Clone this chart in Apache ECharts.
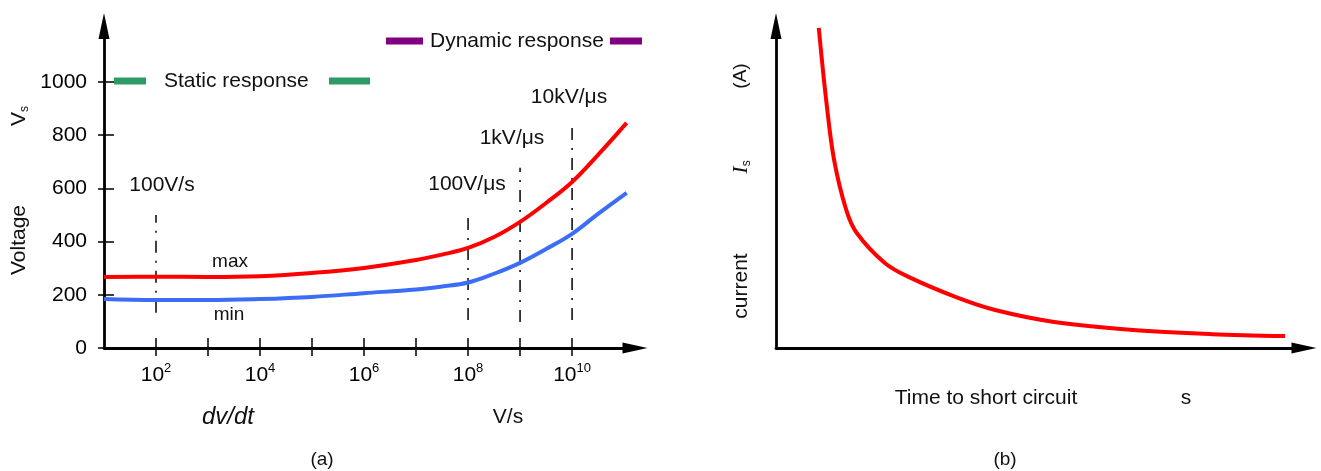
<!DOCTYPE html>
<html>
<head>
<meta charset="utf-8">
<script src="https://cdn.jsdelivr.net/npm/echarts@6/dist/echarts.min.js"></script>
<style>
html,body{margin:0;padding:0;background:#fff;}
#c{width:1321px;height:471px;}
</style>
</head>
<body>
<div id="c"></div>
<script>
// ---- data: panel (a) ----
var dvdtExp   = [1, 2, 3, 4, 5, 6, 7, 7.5, 8, 8.5, 9, 9.5, 10, 10.5, 11.05]; // log10(dv/dt)
var vMax      = [267, 268, 267, 270, 282, 301, 331, 351, 376, 417, 474, 545, 624, 726, 846];
var vMin      = [184, 180, 180, 184, 192, 206, 220, 231, 246, 279, 320, 372, 429, 504, 583];
var guideExp    = [2, 8, 9, 10];
var guideTop    = [500, 500, 677, 850];
var guideBottom = [132, 105, 98, 105];
var guideNames  = ['100V/s', '100V/μs', '1kV/μs', '10kV/μs'];
var yTicks    = [0, 200, 400, 600, 800, 1000];
var xTickExps = [2, 3, 4, 5, 6, 7, 8, 9, 10];
var xLabelExps = [2, 4, 6, 8, 10];
// ---- data: panel (b) ----
var tShort = [0.81, 0.95, 1.10, 1.33, 1.53, 2.06, 2.52, 3.41, 4.15, 5.27, 6.76, 8.26, 9.64];
var iShort = [9.94, 7.70, 5.84, 4.29, 3.57, 2.64, 2.20, 1.58, 1.18, 0.81, 0.56, 0.43, 0.37];

var FONT = "'Liberation Sans', Arial, sans-serif";
var chart = echarts.init(document.getElementById('c'), null, {renderer: 'canvas'});

function zip(a, b) { return a.map(function (v, i) { return [v, b[i]]; }); }

var series = [
  {type: 'line', xAxisIndex: 0, yAxisIndex: 0, data: zip(dvdtExp, vMax), smooth: 0.4, symbol: 'none',
   lineStyle: {color: '#ff0000', width: 4}, z: 5},
  {type: 'line', xAxisIndex: 0, yAxisIndex: 0, data: zip(dvdtExp, vMin), smooth: 0.4, symbol: 'none',
   lineStyle: {color: '#3b6ef5', width: 4}, z: 5},
  {type: 'line', xAxisIndex: 2, yAxisIndex: 2, data: zip(tShort, iShort), smooth: 0.35, symbol: 'none',
   lineStyle: {color: '#ff0000', width: 4}, z: 5}
];
guideExp.forEach(function (e, i) {
  series.push({type: 'line', xAxisIndex: 0, yAxisIndex: 0, symbol: 'none', silent: true,
    data: [[e, guideBottom[i]], [e, guideTop[i]]],
    lineStyle: {color: '#000', width: 1.5, type: [12, 8, 2, 8]}, z: 3});
});

var axisLineBase = {show: true, lineStyle: {color: '#000', width: 2.8}, symbol: ['none', 'triangle']};

chart.setOption({
  animation: false,
  grid: [
    {left: 104, top: 26, width: 531, height: 322},
    {left: 776, top: 26, width: 528, height: 322}
  ],
  xAxis: [
    {type: 'value', gridIndex: 0, min: 1, max: 11.21, interval: 1, position: 'bottom',
     axisLine: Object.assign({}, axisLineBase, {symbolSize: [11, 25]}),
     splitLine: {show: false},
     axisTick: {show: true, length: 8, lineStyle: {color: '#000', width: 1.5}, customValues: xTickExps},
     axisLabel: {show: true, margin: 14, customValues: xLabelExps, color: '#000',
       formatter: function (v) { return '{b|10}{p|' + v + '}'; },
       rich: {b: {fontSize: 21, fontFamily: FONT, lineHeight: 26, color: '#000'},
              p: {fontSize: 13, fontFamily: FONT, lineHeight: 14, verticalAlign: 'top', color: '#000'}}}},
    {type: 'value', gridIndex: 0, min: 1, max: 11.21, interval: 1, position: 'bottom',
     axisLine: {show: false}, splitLine: {show: false}, axisLabel: {show: false},
     axisTick: {show: true, inside: true, length: 10, lineStyle: {color: '#000', width: 1.5}, customValues: xTickExps}},
    {type: 'value', gridIndex: 1, min: 0, max: 10, position: 'bottom',
     axisLine: Object.assign({}, axisLineBase, {symbolSize: [11, 25]}),
     splitLine: {show: false}, axisTick: {show: false}, axisLabel: {show: false}}
  ],
  yAxis: [
    {type: 'value', gridIndex: 0, min: 0, max: 1210, interval: 200, position: 'left',
     axisLine: Object.assign({}, axisLineBase, {symbolSize: [11, 26]}),
     splitLine: {show: false},
     axisTick: {show: true, length: 6, lineStyle: {color: '#000', width: 1.5}, customValues: yTicks},
     axisLabel: {show: true, margin: 17, customValues: yTicks, color: '#000', fontSize: 21, fontFamily: FONT,
       formatter: function (v) { return String(v); }}},
    {type: 'value', gridIndex: 0, min: 0, max: 1210, interval: 200, position: 'left',
     axisLine: {show: false}, splitLine: {show: false}, axisLabel: {show: false},
     axisTick: {show: true, inside: true, length: 10, lineStyle: {color: '#000', width: 1.5}, customValues: yTicks}},
    {type: 'value', gridIndex: 1, min: 0, max: 10, position: 'left',
     axisLine: Object.assign({}, axisLineBase, {symbolSize: [11, 26]}),
     splitLine: {show: false}, axisTick: {show: false}, axisLabel: {show: false}}
  ],
  series: series,
  graphic: [
    // legend-like annotations
    {type: 'rect', shape: {x: 114, y: 77.5, width: 32, height: 7}, style: {fill: '#2e9a66'}},
    {type: 'rect', shape: {x: 329, y: 77.5, width: 41, height: 7}, style: {fill: '#2e9a66'}},
    {type: 'text', x: 164, y: 81, style: {text: 'Static response', fontSize: 21, fontFamily: FONT, fill: '#111', align: 'left', verticalAlign: 'middle'}},
    {type: 'rect', shape: {x: 386, y: 37.5, width: 37, height: 7}, style: {fill: '#800080'}},
    {type: 'rect', shape: {x: 610, y: 37.5, width: 32, height: 7}, style: {fill: '#800080'}},
    {type: 'text', x: 430, y: 41, style: {text: 'Dynamic response', fontSize: 21, fontFamily: FONT, fill: '#111', align: 'left', verticalAlign: 'middle'}},
    // guide annotations
    {type: 'text', x: 162, y: 185, style: {text: guideNames[0], fontSize: 21, fontFamily: FONT, fill: '#111', align: 'center', verticalAlign: 'middle'}},
    {type: 'text', x: 467, y: 184, style: {text: guideNames[1], fontSize: 21, fontFamily: FONT, fill: '#111', align: 'center', verticalAlign: 'middle'}},
    {type: 'text', x: 512, y: 138, style: {text: guideNames[2], fontSize: 21, fontFamily: FONT, fill: '#111', align: 'center', verticalAlign: 'middle'}},
    {type: 'text', x: 569, y: 97, style: {text: guideNames[3], fontSize: 21, fontFamily: FONT, fill: '#111', align: 'center', verticalAlign: 'middle'}},
    {type: 'text', x: 230, y: 262, style: {text: 'max', fontSize: 19, fontFamily: FONT, fill: '#111', align: 'center', verticalAlign: 'middle'}},
    {type: 'text', x: 229, y: 315, style: {text: 'min', fontSize: 19, fontFamily: FONT, fill: '#111', align: 'center', verticalAlign: 'middle'}},
    // axis names panel (a)
    {type: 'text', x: 19, y: 240, rotation: Math.PI / 2, style: {text: 'Voltage', fontSize: 21, fontFamily: FONT, fill: '#111', align: 'center', verticalAlign: 'middle'}},
    {type: 'text', x: 19, y: 116, rotation: Math.PI / 2, style: {text: '{v|V}{s|s}', align: 'center', verticalAlign: 'middle',
      rich: {v: {fontSize: 21, fontFamily: FONT, fill: '#111', lineHeight: 24}, s: {fontSize: 12, fontFamily: FONT, fill: '#111', lineHeight: 12, verticalAlign: 'bottom'}}}},
    {type: 'text', x: 228, y: 417, style: {text: 'dv/dt', fontSize: 24, fontStyle: 'italic', fontFamily: FONT, fill: '#111', align: 'center', verticalAlign: 'middle'}},
    {type: 'text', x: 508, y: 417, style: {text: 'V/s', fontSize: 21, fontFamily: FONT, fill: '#111', align: 'center', verticalAlign: 'middle'}},
    {type: 'text', x: 322, y: 460, style: {text: '(a)', fontSize: 19, fontFamily: FONT, fill: '#111', align: 'center', verticalAlign: 'middle'}},
    // axis names panel (b)
    {type: 'text', x: 741, y: 76, rotation: Math.PI / 2, style: {text: '(A)', fontSize: 19, fontFamily: FONT, fill: '#111', align: 'center', verticalAlign: 'middle'}},
    {type: 'text', x: 741, y: 167, rotation: Math.PI / 2, style: {text: '{i|I}{s|s}', align: 'center', verticalAlign: 'middle',
      rich: {i: {fontSize: 22, fontFamily: "'Liberation Serif', 'DejaVu Serif', serif", fontStyle: 'italic', fill: '#111', lineHeight: 24},
             s: {fontSize: 12, fontFamily: FONT, fill: '#111', lineHeight: 12, verticalAlign: 'bottom'}}}},
    {type: 'text', x: 741, y: 286, rotation: Math.PI / 2, style: {text: 'current', fontSize: 21, fontFamily: FONT, fill: '#111', align: 'center', verticalAlign: 'middle'}},
    {type: 'text', x: 986, y: 398, style: {text: 'Time to short circuit', fontSize: 21, fontFamily: FONT, fill: '#111', align: 'center', verticalAlign: 'middle'}},
    {type: 'text', x: 1186, y: 398, style: {text: 's', fontSize: 21, fontFamily: FONT, fill: '#111', align: 'center', verticalAlign: 'middle'}},
    {type: 'text', x: 1005, y: 460, style: {text: '(b)', fontSize: 19, fontFamily: FONT, fill: '#111', align: 'center', verticalAlign: 'middle'}}
  ]
});
</script>
</body>
</html>
